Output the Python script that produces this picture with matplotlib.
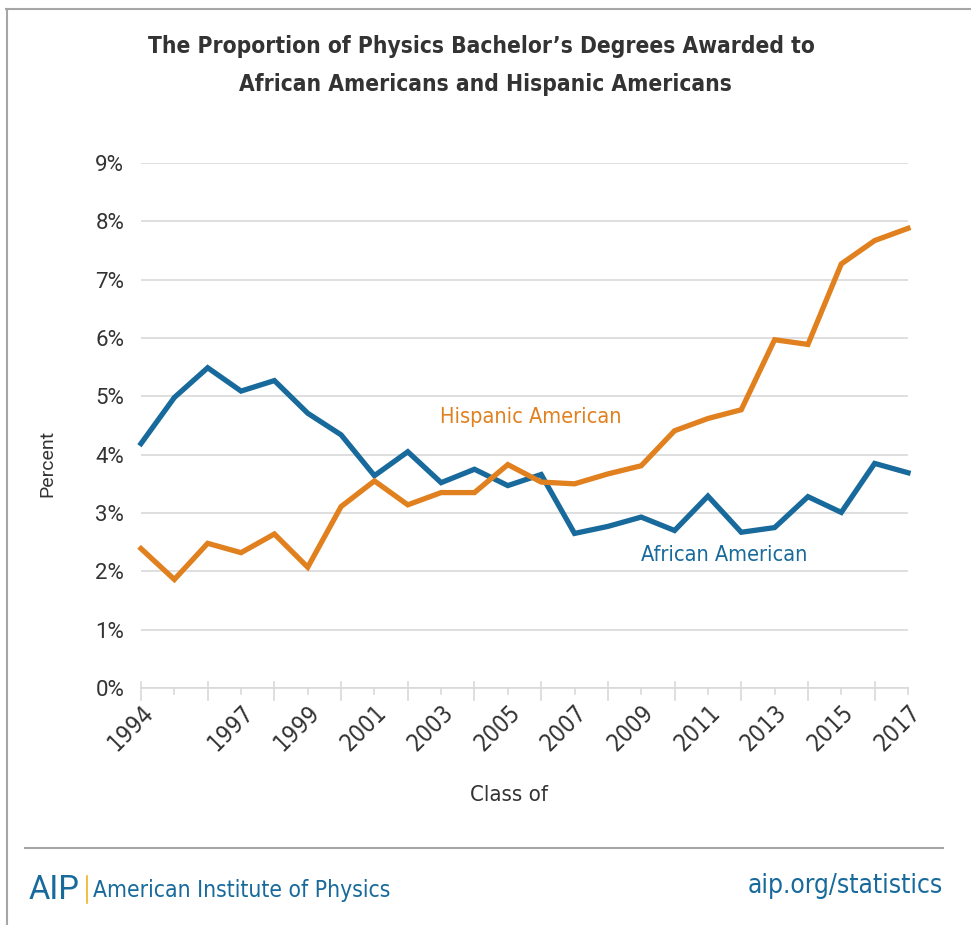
import matplotlib
matplotlib.use("Agg")
import matplotlib.pyplot as plt
from matplotlib.lines import Line2D
from matplotlib.ticker import FixedLocator, FuncFormatter
from matplotlib import font_manager as fm
from matplotlib.font_manager import FontProperties

years = list(range(1994, 2018))
african_american = [4.19, 4.98, 5.49, 5.09, 5.27, 4.71, 4.34, 3.64, 4.05, 3.52, 3.75, 3.47,
                    3.66, 2.65, 2.77, 2.93, 2.70, 3.29, 2.67, 2.75, 3.28, 3.01, 3.85, 3.69]
hispanic_american = [2.39, 1.86, 2.48, 2.32, 2.64, 2.07, 3.11, 3.55, 3.14, 3.35, 3.35, 3.83,
                     3.53, 3.50, 3.67, 3.81, 4.41, 4.62, 4.77, 5.97, 5.89, 7.27, 7.67, 7.88]
label_years = [1994, 1997, 1999, 2001, 2003, 2005, 2007, 2009, 2011, 2013, 2015, 2017]
y_ticks = list(range(0, 10))

# ---- find a condensed font if any is installed ----
def find_font(bold):
    cands = []
    for f in fm.fontManager.ttflist:
        nm = f.name.lower()
        st = str(f.stretch).lower()
        is_cond = ("narrow" in nm or "condensed" in nm or "cond" in st or st in ("600", "700", "condensed", "semi-condensed"))
        if not is_cond:
            continue
        w = f.weight if isinstance(f.weight, int) else {"bold": 700, "normal": 400, "regular": 400}.get(str(f.weight).lower(), 400)
        if "italic" in str(f.style).lower() or "oblique" in str(f.style).lower():
            continue
        score = abs(w - (700 if bold else 400))
        cands.append((score, f.fname))
    if cands:
        cands.sort()
        return FontProperties(fname=cands[0][1])
    return FontProperties(family=["Roboto", "DejaVu Sans"], weight="bold" if bold else "normal")

COND_R = find_font(False)
COND_B = find_font(True)
REG = FontProperties(family=["Roboto", "DejaVu Sans"])

BLUE = "#176a9b"
ORANGE = "#e0801f"
DARK = "#333333"

W, H = 971, 925
fig = plt.figure(figsize=(W / 100, H / 100), dpi=100)
renderer = fig.canvas.get_renderer()

def fit(t, width_px):
    bb = t.get_window_extent(renderer=renderer)
    t.set_fontsize(t.get_fontsize() * width_px / bb.width)

# frame lines (top and left)
fig.add_artist(Line2D([6 / W, 1], [1 - 9 / H, 1 - 9 / H], color="#a6a6a6", lw=1.5))
fig.add_artist(Line2D([7 / W, 7 / W], [0, 1 - 9 / H], color="#a6a6a6", lw=1.5))
# footer separator
fig.add_artist(Line2D([25 / W, 943 / W], [1 - 848 / H, 1 - 848 / H], color="#a6a6a6", lw=1.5))

ax = fig.add_axes([141 / W, 1 - 688 / H, (908 - 141) / W, (688 - 163) / H])
ax.plot(years, african_american, color=BLUE, lw=3.8, solid_joinstyle="miter", clip_on=False, zorder=3)
ax.plot(years, hispanic_american, color=ORANGE, lw=3.8, solid_joinstyle="miter", clip_on=False, zorder=3)

ax.set_xlim(years[0], years[-1])
ax.set_ylim(0, 9)
ax.yaxis.set_major_locator(FixedLocator(y_ticks))
ax.yaxis.set_major_formatter(FuncFormatter(lambda v, p: f"{int(v)}%"))
ax.grid(axis="y", color="#d9d9d9", lw=1.2)
ax.set_axisbelow(True)
for s in ["top", "right", "left"]:
    ax.spines[s].set_visible(False)
ax.spines["bottom"].set_color("#d9d9d9")
ax.spines["bottom"].set_linewidth(1.2)
ax.tick_params(axis="y", length=0, pad=12, labelcolor=DARK)
for t in ax.get_yticklabels():
    t.set_fontproperties(REG)
    t.set_fontsize(16)

ax.xaxis.set_major_locator(FixedLocator(label_years))
ax.set_xticklabels([str(y) for y in label_years], rotation=45, ha="right",
                   rotation_mode="anchor", color=DARK)
for t in ax.get_xticklabels():
    t.set_fontproperties(COND_R)
    t.set_fontsize(17)
ax.tick_params(axis="x", length=0, pad=9)
# tick marks: tall at even offsets, short at odd offsets
for i, yr in enumerate(years):
    if i % 2 == 0:
        ax.plot([yr, yr], [-0.2, 0.1], color="#d9d9d9", lw=1.2, clip_on=False, zorder=1)
    else:
        ax.plot([yr, yr], [-0.1, 0.0], color="#d9d9d9", lw=1.2, clip_on=False, zorder=1)

yl = fig.text(47 / W, 1 - 463 / H, "Percent", rotation=90, ha="center", va="center",
              color=DARK, fontproperties=REG, fontsize=14)
xl = fig.text(509 / W, 1 - 795 / H, "Class of", ha="center", va="center",
              color=DARK, fontproperties=COND_R, fontsize=18)
fit(xl, 78)

h1 = ax.text(2005.7, 4.65, "Hispanic American", color=ORANGE, fontproperties=COND_R,
             fontsize=18, ha="center", va="center")
fit(h1, 181)
a1 = ax.text(2011.5, 2.28, "African American", color=BLUE, fontproperties=COND_R,
             fontsize=18, ha="center", va="center")
fit(a1, 166)

t1 = fig.text(481 / W, 1 - 47 / H, "The Proportion of Physics Bachelor\u2019s Degrees Awarded to",
              ha="center", va="center", color=DARK, fontproperties=COND_B, fontsize=20,
              fontweight="bold")
fit(t1, 666)
t2 = fig.text(485 / W, 1 - 84 / H, "African Americans and Hispanic Americans",
              ha="center", va="center", color=DARK, fontproperties=COND_B,
              fontsize=t1.get_fontsize(), fontweight="bold")

# footer
aip = fig.text(29 / W, 1 - 890 / H, "AIP", color=BLUE, fontproperties=REG, fontsize=22,
               ha="left", va="center")
fit(aip, 51)
fig.add_artist(Line2D([87 / W, 87 / W], [1 - 876 / H, 1 - 903 / H], color="#f0b323", lw=1.2))
ai = fig.text(93 / W, 1 - 890 / H, "American Institute of Physics", color=BLUE,
              fontproperties=COND_R, fontsize=16, ha="left", va="center")
fit(ai, 299)
st = fig.text(943 / W, 1 - 886 / H, "aip.org/statistics", color=BLUE,
              fontproperties=COND_R, fontsize=20, ha="right", va="center")
fit(st, 195)

fig.savefig("out.png", dpi=100, facecolor="white")
